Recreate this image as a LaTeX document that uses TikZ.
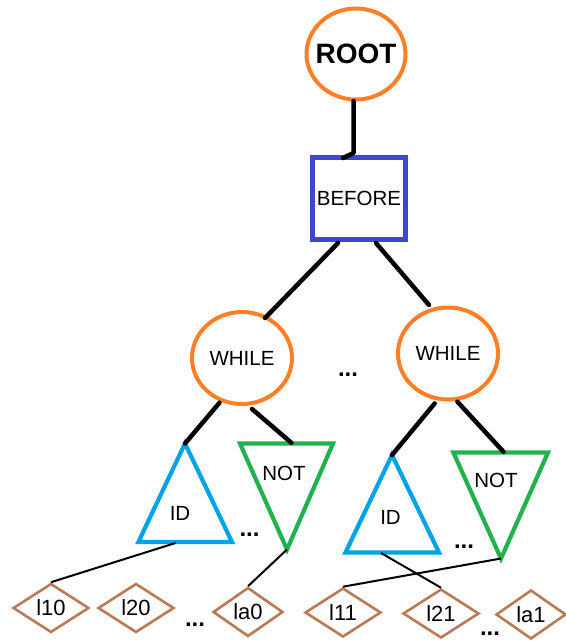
\documentclass[tikz,border=0pt]{standalone}
\usepackage{fontspec}
\setmainfont{Liberation Sans}
\usetikzlibrary{shapes.geometric}
\definecolor{rootorange}{HTML}{FF7F27}
\definecolor{boxblue}{HTML}{3F48CC}
\definecolor{idcyan}{HTML}{00A2E8}
\definecolor{notgreen}{HTML}{22B14C}
\definecolor{leafbrown}{HTML}{B97A57}
\tikzset{
  circnode/.style={ellipse, draw=rootorange, line width=4pt, fill=white, inner sep=0pt,
    minimum width=100pt, minimum height=92pt, font=\fontsize{20.5}{22}\selectfont},
  boxnode/.style={rectangle, draw=boxblue, line width=5pt, inner sep=0pt,
    minimum width=93pt, minimum height=82pt, font=\fontsize{20.5}{22}\selectfont},
  leaf/.style={diamond, draw=leafbrown, line width=2.6pt, inner sep=0pt, aspect=1.55,
    minimum width=76pt, minimum height=49pt, font=\fontsize{22}{24}\selectfont},
  idtri/.style={draw=idcyan, line width=4.2pt, line join=miter},
  nottri/.style={draw=notgreen, line width=4.2pt, line join=miter},
  label/.style={inner sep=0pt, font=\fontsize{20.5}{22}\selectfont},
  dots/.style={inner sep=0pt, font=\fontsize{24}{26}\selectfont\bfseries},
  thick link/.style={line width=4.5pt, line cap=round},
  thin link/.style={line width=2pt}
}
\begin{document}
\begin{tikzpicture}[x=1pt, y=-1pt]
\useasboundingbox (0,0) rectangle (565,642);

% top of the tree
\node[circnode, inner sep=-12pt, minimum width=99pt, minimum height=91pt, font=\fontsize{28}{30}\selectfont\bfseries] (root) at (356,54) {ROOT};
\node[boxnode] (before) at (359,198) {BEFORE};
\node[circnode] (whileL) at (242,358) {WHILE};
\node[circnode] (whileR) at (448,353.5) {WHILE};
\node[dots] (dotsMid) at (348,375) {...};

% triangles: ID (pointing up) and NOT (pointing down)
\coordinate (idL-apex) at (185,443.5);
\coordinate (idL-bl) at (138.4,542);
\coordinate (idL-br) at (232,542);
\draw[idtri] (idL-apex) -- (idL-bl) -- (idL-br) -- cycle;
\node[label] (idL) at (180,513) {ID};

\coordinate (notL-tl) at (240,443.5);
\coordinate (notL-tr) at (333,443.5);
\coordinate (notL-apex) at (287,549.5);
\draw[nottri] (notL-tl) -- (notL-tr) -- (notL-apex) -- cycle;
\node[label] (notL) at (284,473) {NOT};

\coordinate (idR-apex) at (392,455);
\coordinate (idR-bl) at (345.5,552.5);
\coordinate (idR-br) at (439,552.5);
\draw[idtri] (idR-apex) -- (idR-bl) -- (idR-br) -- cycle;
\node[label] (idR) at (390.5,517) {ID};

\coordinate (notR-tl) at (453.4,452.5);
\coordinate (notR-tr) at (548,452.5);
\coordinate (notR-apex) at (501,558.5);
\draw[nottri] (notR-tl) -- (notR-tr) -- (notR-apex) -- cycle;
\node[label] (notR) at (496,480) {NOT};

\node[dots] (dotsL) at (249.5,535) {...};
\node[dots] (dotsR) at (464,547) {...};

% leaves
\node[leaf] (l10) at (51,608) {l10};
\node[leaf] (l20) at (136,608) {l20};
\node[leaf, minimum width=70pt] (la0) at (248,612) {la0};
\node[leaf] (l11) at (343,612.5) {l11};
\node[leaf] (l21) at (441,613.5) {l21};
\node[leaf, minimum width=70pt] (la1) at (531,614.5) {la1};
\node[dots] (dotsB1) at (195,625) {...};
\node[dots] (dotsB2) at (490,634) {...};

% thick connectors
\coordinate (rootBend) at (353.5,153);
\coordinate (beforeHook) at (343,158);
\draw[thick link, line join=round] (353.5,101) coordinate (rootFoot) -- (rootBend) -- (beforeHook);
\draw[thick link] (338,243) coordinate (beforeL) -- (265,318) coordinate (whileLtop);
\draw[thick link] (376,243) coordinate (beforeR) -- (429,305) coordinate (whileRtop);
\draw[thick link] (219.5,402.7) coordinate (wLa) -- (idL-apex);
\draw[thick link] (252,409) coordinate (wLb) -- (291.4,442.8) coordinate (notLtop);
\draw[thick link] (434.7,403.4) coordinate (wRa) -- (idR-apex);
\draw[thick link] (457.4,401.7) coordinate (wRb) -- (503.5,451.8) coordinate (notRtop);

% thin connectors to the leaves
\draw[thin link] (175.5,543) coordinate (idLfoot) -- (l10.north);
\draw[thin link] (notL-apex) -- (la0.north);
\draw[thin link] (381,553) coordinate (idRfoot) -- (l21.north);
\draw[thin link] (notR-apex) -- (l11.north);
\end{tikzpicture}
\end{document}
